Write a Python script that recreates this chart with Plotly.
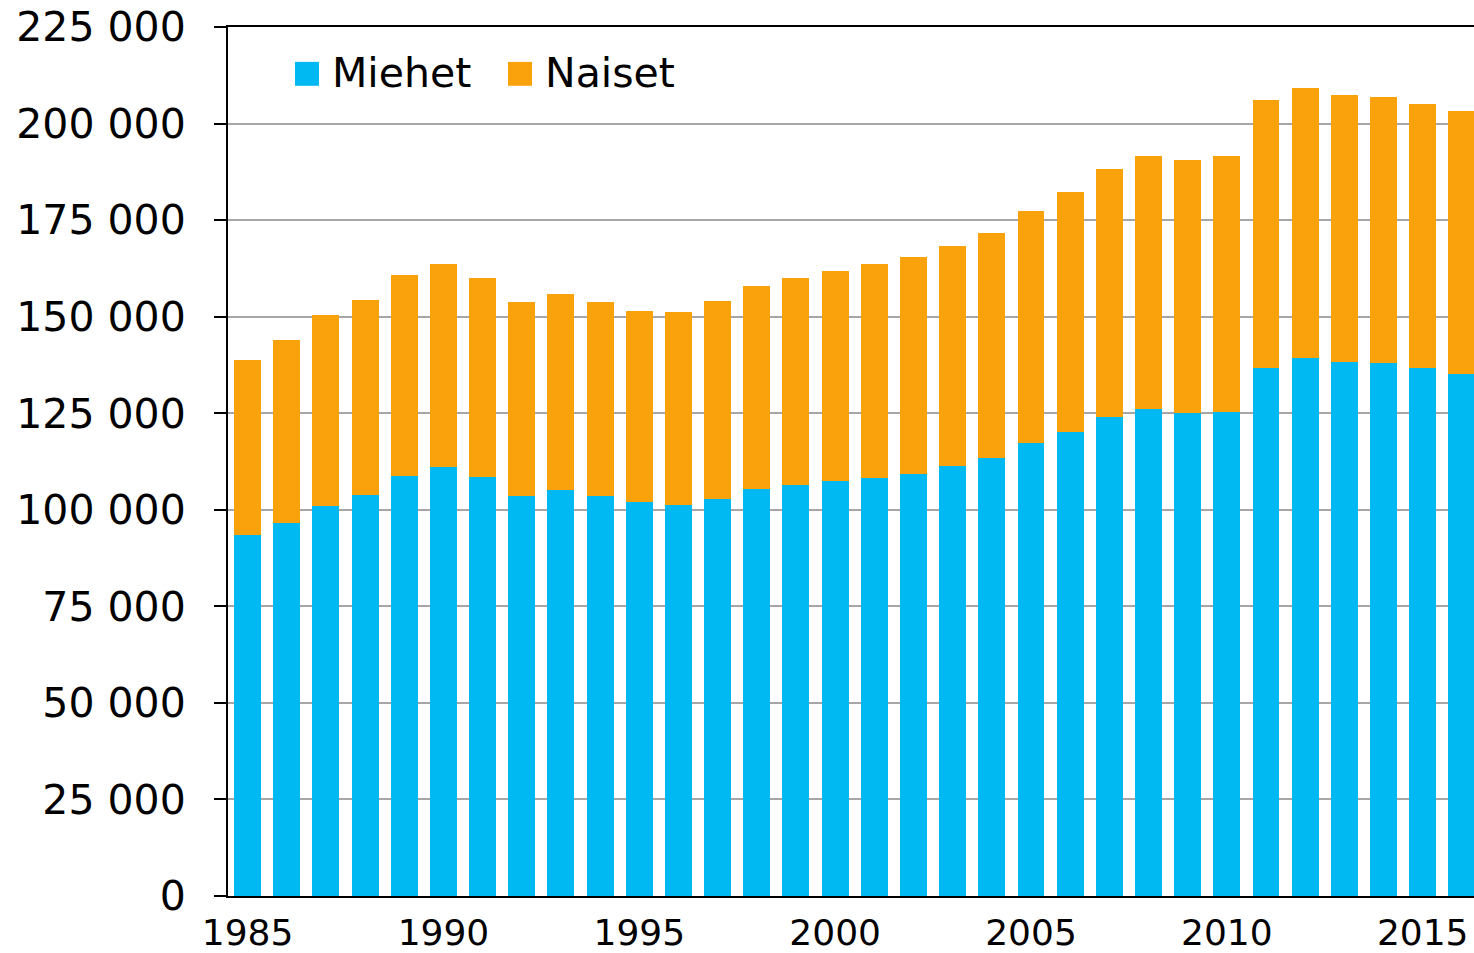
import plotly.graph_objects as go

years = list(range(1985, 2017))
total = [138860, 143860, 150520, 154220, 160700, 163560, 159930, 153790, 155780, 153710,
         151550, 151290, 153960, 157940, 160010, 161910, 163560, 165370, 168300, 171590,
         177400, 182220, 188180, 191720, 190690, 191550, 206060, 209250, 207440, 206840,
         205110, 203290]
miehet = [93490, 96680, 101090, 103940, 108860, 111200, 108430, 103680, 105150, 103680,
          101950, 101260, 102730, 105320, 106530, 107400, 108350, 109380, 111280, 113530,
          117200, 120180, 123900, 125970, 124930, 125280, 136680, 139270, 138240, 137890,
          136680, 135120]
naiset = [t - m for t, m in zip(total, miehet)]

series_names = ["Miehet", "Naiset"]
colors = ["#00B9F2", "#F9A20B"]

y_tickvals = [0, 25000, 50000, 75000, 100000, 125000, 150000, 175000, 200000, 225000]
y_ticktext = ["0", "25 000", "50 000", "75 000", "100 000", "125 000", "150 000",
              "175 000", "200 000", "225 000"]
x_tickvals = [1985, 1990, 1995, 2000, 2005, 2010, 2015]

FONT = "DejaVu Sans"

fig = go.Figure()
for name, vals, col in zip(series_names, [miehet, naiset], colors):
    fig.add_trace(go.Bar(x=years, y=vals, name=name, marker=dict(color=col, line=dict(width=0)),
                         showlegend=False))

# manual legend (large square swatches)
L, W, T, H = 228, 1246, 27, 872
def px(xp):
    return (xp - L) / W
def py(yp):
    return (T + H - yp) / H

legend_items = [(series_names[0], colors[0], 295, 330), (series_names[1], colors[1], 508, 543)]
for name, col, sx, tx in legend_items:
    fig.add_shape(type="rect", xref="paper", yref="paper",
                  x0=px(sx), x1=px(sx + 24), y0=py(86), y1=py(62),
                  fillcolor=col, line=dict(width=0))
    fig.add_annotation(xref="paper", yref="paper", x=px(tx), y=py(73), text=name,
                       showarrow=False, xanchor="left", yanchor="middle",
                       font=dict(family=FONT, size=41, color="black"))

fig.update_layout(
    width=1474, height=953,
    margin=dict(l=228, r=0, t=27, b=54),
    barmode="stack", bargap=0.312,
    plot_bgcolor="white", paper_bgcolor="white",
    font=dict(family=FONT, color="black"),
)
fig.update_xaxes(
    range=[1984.5, 2016.31], tickvals=x_tickvals, ticks="",
    showline=True, linecolor="black", linewidth=2, mirror=True,
    showgrid=False, tickfont=dict(size=36), ticklabelstandoff=4,
)
fig.update_yaxes(
    range=[0, 225000], tickvals=y_tickvals, ticktext=y_ticktext,
    showline=True, linecolor="black", linewidth=2,
    ticks="outside", ticklen=12, tickcolor="black", tickwidth=1.5,
    showgrid=True, gridcolor="#A6A6A6", gridwidth=1.5,
    tickfont=dict(size=41), ticklabelstandoff=20, zeroline=False,
)

fig.write_html("out.html", config={"displayModeBar": False},
               post_script="document.body.style.margin='0';document.body.style.overflow='hidden';")
